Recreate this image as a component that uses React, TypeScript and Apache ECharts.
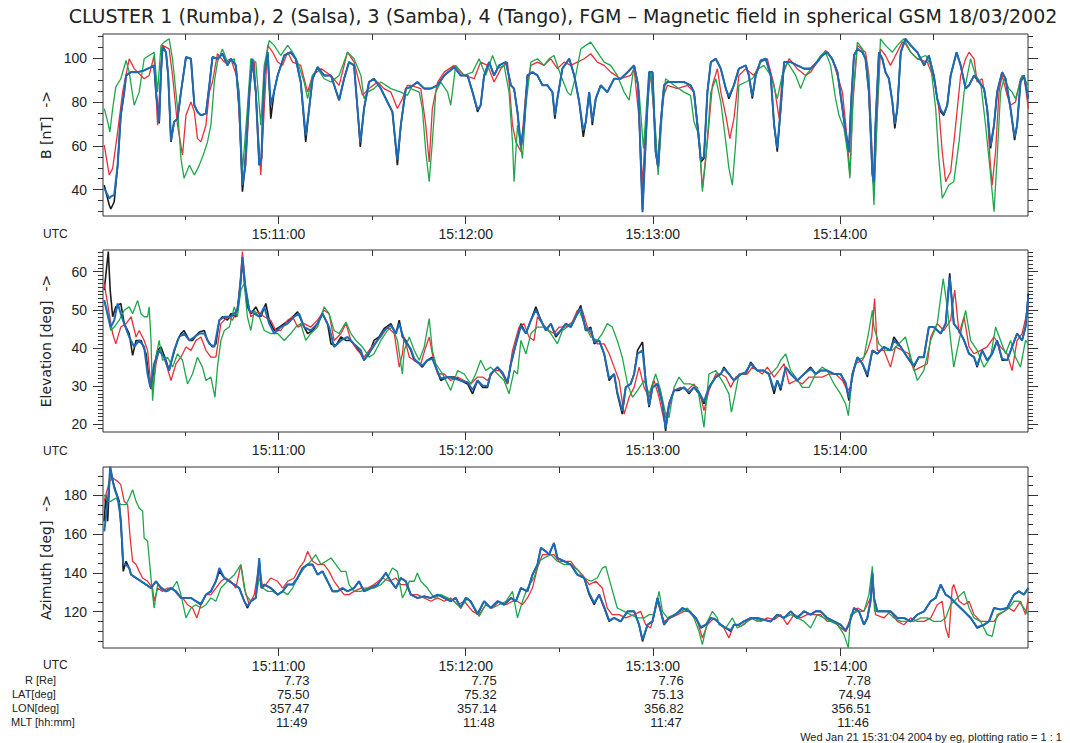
import React, { useEffect, useRef } from "react";
import * as echarts from "echarts";

// time in seconds after 15:10:00 UT
const TICK_TIMES = [60, 120, 180, 240];
const TICK_LABELS = ["15:11:00", "15:12:00", "15:13:00", "15:14:00"];
const HALF_TIMES = [30, 90, 150, 210, 270];
const ALL_TIMES = [30, 60, 90, 120, 150, 180, 210, 240, 270];
const R_RE = ["7.73", "7.75", "7.76", "7.78"];
const LAT_DEG = ["75.50", "75.32", "75.13", "74.94"];
const LON_DEG = ["357.47", "357.14", "356.82", "356.51"];
const MLT_HM = ["11:49", "11:48", "11:47", "11:46"];

const B_MAJOR = [40, 60, 80, 100];
const B_MINOR = [30, 35, 45, 50, 55, 65, 70, 75, 85, 90, 95, 105, 110];
const E_MAJOR = [20, 30, 40, 50, 60];
const E_MINOR = [19, 21, 22, 23, 24, 25, 26, 27, 28, 29, 31, 32, 33, 34, 35, 36, 37, 38, 39, 41, 42, 43, 44, 45, 46, 47, 48, 49, 51, 52, 53, 54, 55, 56, 57, 58, 59, 61, 62, 63, 64, 65];
const A_MAJOR = [120, 140, 160, 180];
const A_MINOR = [105, 110, 115, 125, 130, 135, 145, 150, 155, 165, 170, 175, 185, 190];

// |B| [nT]
const B_C1: [number, number][] = [[4.1,42.1],[5.7,33.0],[6.2,31.2],[7.3,34.5],[8.4,51.2],[9.4,73.9],[10.5,84.5],[11.1,92.1],[12.7,93.6],[14.8,93.6],[16.9,94.4],[19.1,95.9],[20.1,96.7],[20.7,84.5],[21.7,70.2],[22.3,93.6],[22.8,105.8],[23.9,102.7],[24.6,92.1],[25.5,61.8],[26.5,70.9],[27.6,72.4],[28.7,84.5],[30.3,100.5],[31.9,99.7],[33.0,78.5],[34.0,75.5],[35.1,73.9],[36.7,74.7],[37.8,87.6],[38.8,100.5],[40.4,99.7],[42.0,102.0],[43.6,96.7],[44.7,99.7],[46.3,96.7],[47.4,77.0],[48.4,39.1],[49.2,49.7],[50.6,84.5],[51.6,99.7],[52.7,84.5],[53.8,51.2],[54.5,54.2],[55.4,92.1],[56.5,102.7],[57.5,72.4],[58.6,85.0],[59.7,92.1],[61.8,101.2],[63.9,102.7],[65.5,99.7],[67.1,89.1],[68.7,61.8],[69.8,77.0],[70.9,90.6],[72.5,95.9],[74.6,92.1],[76.8,92.1],[79.4,80.8],[81.0,90.6],[82.6,98.2],[84.2,96.7],[85.3,77.0],[86.2,59.5],[87.4,77.0],[89.0,89.1],[90.6,90.6],[92.8,86.1],[94.9,80.0],[96.5,75.5],[98.1,51.2],[99.2,69.4],[100.8,86.1],[102.4,86.8],[104.5,89.1],[106.7,86.1],[108.8,86.1],[111.0,87.6],[113.1,92.1],[116.3,95.9],[118.4,92.1],[120.6,92.1],[122.2,84.5],[123.8,75.5],[124.8,78.5],[125.9,92.1],[127.5,98.2],[129.1,92.1],[130.7,96.7],[132.9,98.2],[134.5,87.6],[135.5,86.1],[136.6,75.5],[137.7,58.8],[138.7,69.4],[139.8,92.1],[141.4,93.6],[143.0,92.1],[144.6,87.6],[146.2,87.6],[147.8,84.5],[148.6,72.4],[149.4,81.5],[151.0,95.2],[153.2,99.7],[154.8,92.1],[156.4,80.0],[157.7,64.1],[158.5,70.9],[159.6,84.5],[160.6,69.4],[161.7,81.5],[163.3,87.6],[165.4,84.5],[167.6,90.6],[169.7,90.6],[171.9,93.6],[174.0,96.7],[175.3,87.6],[176.1,54.2],[176.7,30.8],[177.7,61.8],[178.8,93.6],[179.9,93.6],[180.9,57.3],[181.7,49.7],[182.5,69.4],[183.6,87.6],[184.7,89.1],[186.8,89.1],[190.0,89.1],[192.1,87.6],[193.2,84.5],[194.3,69.4],[195.4,52.7],[196.4,54.2],[197.5,84.5],[198.6,98.2],[200.2,99.7],[201.8,95.2],[203.4,86.1],[204.4,81.5],[206.0,87.6],[207.6,95.2],[209.8,96.7],[210.8,92.1],[211.9,81.5],[213.0,92.1],[214.6,98.9],[216.2,99.7],[217.8,92.1],[218.9,69.4],[219.9,57.3],[221.0,77.0],[222.1,98.2],[224.2,98.2],[226.3,96.7],[228.5,95.2],[230.6,95.2],[232.7,98.2],[234.3,101.2],[235.9,102.7],[237.5,99.7],[239.2,93.6],[240.8,77.0],[241.8,66.4],[242.9,58.8],[243.6,80.0],[244.5,101.2],[245.6,104.2],[247.2,102.7],[248.2,99.7],[249.3,84.5],[250.4,46.7],[250.9,42.1],[251.4,69.4],[252.5,102.7],[253.6,99.7],[254.6,93.6],[255.7,90.6],[256.8,80.0],[257.6,67.9],[258.4,77.0],[259.5,102.7],[261.0,108.8],[262.7,105.8],[264.8,102.7],[267.0,96.7],[268.5,101.2],[270.1,92.1],[271.2,81.5],[272.3,75.5],[273.3,73.9],[274.4,78.5],[275.5,92.1],[277.4,102.7],[278.7,96.7],[280.3,86.1],[281.4,87.6],[283.0,92.1],[284.6,89.1],[286.2,86.1],[287.2,77.0],[288.3,58.8],[289.4,69.4],[290.4,84.5],[292.0,93.6],[293.1,90.6],[294.7,77.0],[296.0,62.6],[296.8,69.4],[297.9,89.1],[299.0,92.1],[300.4,81.5]];
const B_C2: [number, number][] = [[4.1,60.3],[5.7,46.7],[6.8,49.7],[8.4,66.4],[10.0,84.5],[12.1,99.7],[13.7,95.2],[16.9,90.6],[18.5,92.1],[20.1,101.2],[21.2,69.4],[22.8,105.8],[24.9,104.2],[26.0,92.1],[27.6,69.4],[29.2,55.8],[30.3,73.9],[31.9,80.0],[33.0,75.5],[34.0,63.3],[35.1,61.8],[36.7,69.4],[37.8,84.5],[38.8,89.1],[40.4,102.0],[42.6,98.2],[44.7,99.7],[46.8,90.6],[48.4,43.6],[49.5,51.2],[51.1,92.1],[52.2,98.2],[53.3,69.4],[54.3,46.7],[55.4,77.0],[56.5,105.8],[58.1,102.7],[59.7,98.2],[61.3,96.7],[62.9,102.7],[64.5,98.2],[67.1,96.7],[69.3,84.5],[70.9,92.1],[73.6,95.2],[76.8,92.1],[79.4,87.6],[82.1,102.7],[84.2,98.2],[86.9,83.0],[89.0,86.1],[91.7,89.1],[93.8,86.1],[96.0,84.5],[98.1,77.0],[99.7,81.5],[101.3,87.6],[102.4,87.6],[105.6,86.1],[107.2,69.4],[108.3,52.7],[109.3,77.0],[111.0,89.1],[113.1,93.6],[116.3,96.7],[119.5,92.1],[122.7,90.6],[124.8,98.2],[127.0,96.7],[129.1,89.1],[131.3,95.2],[133.4,98.2],[135.0,69.4],[136.1,61.8],[137.7,57.3],[139.3,84.5],[140.9,96.7],[143.0,98.2],[145.1,96.7],[147.3,99.7],[149.4,95.2],[151.6,98.2],[153.7,96.7],[155.8,98.2],[158.0,99.7],[160.1,102.0],[162.2,98.2],[164.4,96.7],[166.5,93.6],[169.7,90.6],[172.9,92.1],[174.0,95.2],[175.6,72.4],[176.7,42.1],[177.7,69.4],[179.3,93.6],[180.4,73.9],[181.5,51.2],[183.1,81.5],[184.7,87.6],[187.9,86.1],[191.1,87.6],[193.2,84.5],[194.8,64.8],[195.9,40.6],[197.5,61.8],[199.1,87.6],[200.7,95.2],[201.8,84.5],[203.4,73.9],[204.7,63.3],[206.0,72.4],[207.6,92.1],[209.8,95.2],[212.4,92.1],[214.6,98.2],[216.7,99.7],[218.9,87.6],[220.5,72.4],[221.5,92.1],[223.7,99.7],[226.3,95.2],[229.0,92.1],[230.6,93.6],[232.7,98.2],[235.4,103.5],[237.5,99.7],[239.2,92.1],[240.8,84.5],[242.4,61.8],[243.2,46.7],[244.0,77.0],[245.6,105.8],[248.2,102.7],[249.3,92.1],[250.4,54.2],[250.9,39.1],[251.8,69.4],[253.0,104.2],[254.6,101.2],[256.2,96.7],[257.8,101.2],[260.0,107.3],[261.0,106.5],[262.7,102.7],[264.8,99.7],[268.0,98.2],[270.1,90.6],[271.7,77.0],[272.8,57.3],[273.9,43.6],[275.5,48.2],[277.1,69.4],[278.7,92.1],[280.3,99.7],[281.4,102.7],[283.0,99.7],[284.0,89.1],[285.6,90.6],[287.2,77.0],[288.1,54.2],[288.8,42.1],[289.9,57.3],[291.0,84.5],[292.0,92.1],[293.6,83.0],[294.7,78.5],[296.3,80.0],[297.9,90.6],[299.0,92.1],[300.4,77.0]];
const B_C3: [number, number][] = [[4.1,77.0],[5.2,70.9],[5.9,66.4],[6.8,77.0],[7.8,86.8],[9.4,90.6],[11.1,98.9],[12.1,93.6],[13.7,78.5],[15.3,84.5],[16.9,99.7],[18.5,101.2],[20.1,102.7],[21.2,84.5],[22.3,105.8],[23.3,107.3],[24.9,108.8],[26.0,99.7],[27.6,77.0],[28.7,54.2],[29.7,45.2],[31.4,51.2],[33.0,46.7],[34.6,51.2],[36.2,57.3],[37.2,61.8],[38.3,69.4],[39.4,89.1],[40.4,98.2],[42.0,104.2],[43.6,98.2],[45.8,99.7],[47.4,84.5],[48.4,48.2],[50.0,77.0],[51.1,99.7],[52.7,98.2],[54.3,69.4],[55.4,96.7],[57.0,108.0],[58.6,105.8],[60.7,101.2],[62.9,105.8],[64.5,102.7],[66.1,98.2],[68.2,89.1],[69.3,81.5],[70.9,92.1],[72.5,95.2],[74.6,90.6],[76.8,89.1],[79.4,92.1],[82.1,102.7],[84.2,99.7],[86.4,92.1],[87.4,81.5],[88.5,84.5],[90.6,86.1],[92.8,89.1],[96.0,86.1],[99.2,84.5],[101.3,83.0],[102.4,86.1],[105.1,84.5],[106.1,77.0],[107.2,57.3],[108.3,43.6],[109.3,61.8],[110.4,84.5],[112.0,89.1],[114.2,84.5],[115.2,78.5],[116.8,96.7],[119.5,92.1],[122.2,93.6],[124.3,99.7],[126.4,92.1],[128.6,101.2],[130.2,95.2],[132.3,96.7],[133.9,84.5],[135.0,61.8],[135.5,43.6],[136.6,69.4],[138.2,54.2],[139.3,78.5],[140.9,98.2],[143.0,99.7],[145.1,96.7],[146.7,99.7],[148.3,101.2],[150.5,92.1],[152.6,84.5],[153.7,83.0],[155.3,92.1],[156.9,104.2],[158.5,105.8],[160.1,107.3],[162.2,102.7],[164.4,98.2],[166.5,96.7],[168.6,92.1],[170.8,84.5],[172.4,80.8],[174.0,96.7],[175.6,84.5],[177.0,58.8],[178.3,84.5],[179.3,93.6],[180.9,66.4],[181.7,46.7],[183.1,77.0],[184.1,90.6],[186.8,87.6],[190.0,84.5],[192.1,83.0],[193.2,70.9],[194.8,64.8],[195.9,39.1],[197.0,54.2],[198.6,84.5],[200.2,90.6],[201.8,80.0],[203.4,61.8],[204.4,49.7],[205.5,42.1],[206.6,61.8],[207.6,87.6],[209.8,89.1],[211.9,90.6],[214.0,95.2],[215.6,96.7],[217.8,92.1],[219.9,81.5],[221.5,92.1],[223.1,98.2],[225.8,92.1],[227.4,86.1],[229.0,92.1],[231.7,96.7],[233.8,101.2],[235.4,102.7],[237.0,96.7],[238.6,81.5],[239.7,73.9],[241.3,67.9],[242.4,57.3],[243.2,45.2],[244.3,84.5],[245.6,107.3],[247.2,104.2],[248.8,96.7],[249.8,69.4],[250.9,33.0],[252.0,77.0],[253.0,108.8],[254.6,105.8],[256.8,102.7],[258.4,105.8],[260.5,108.8],[262.7,102.7],[264.8,99.7],[267.5,101.2],[269.1,96.7],[270.7,77.0],[271.7,54.2],[272.8,36.1],[274.9,42.1],[276.5,43.6],[278.2,61.8],[279.8,84.5],[281.9,99.7],[283.5,92.1],[285.1,89.1],[286.7,69.4],[288.3,46.7],[289.4,30.0],[290.4,54.2],[291.5,84.5],[292.6,90.6],[294.2,86.1],[295.2,84.5],[296.3,81.5],[298.4,92.1],[300.4,87.6]];
const B_C4: [number, number][] = [[4.1,40.6],[5.7,36.1],[6.2,36.8],[7.3,37.6],[8.4,51.2],[9.4,73.9],[10.5,84.5],[11.1,92.1],[12.7,93.6],[14.8,93.6],[16.9,94.4],[19.1,95.9],[20.1,96.7],[20.7,84.5],[21.7,71.0],[22.3,93.6],[22.8,105.0],[23.9,102.7],[24.6,92.1],[25.5,62.5],[26.5,70.9],[27.6,72.4],[28.7,84.5],[30.3,100.5],[31.9,99.7],[33.0,78.5],[34.0,75.5],[35.1,73.9],[36.7,74.7],[37.8,87.6],[38.8,100.5],[40.4,99.7],[42.0,102.0],[43.6,96.7],[44.7,99.7],[46.3,96.7],[47.4,77.0],[48.4,42.1],[49.2,49.7],[50.6,84.5],[51.6,99.7],[52.7,84.5],[53.8,51.2],[54.5,54.2],[55.4,92.1],[56.5,102.7],[57.5,78.5],[58.6,85.0],[59.7,92.1],[61.8,101.2],[63.9,102.7],[65.5,99.7],[67.1,89.1],[68.7,64.8],[69.8,77.0],[70.9,90.6],[72.5,95.9],[74.6,92.1],[76.8,92.1],[79.4,80.8],[81.0,90.6],[82.6,98.2],[84.2,96.7],[85.3,77.0],[86.2,61.5],[87.4,77.0],[89.0,89.1],[90.6,90.6],[92.8,86.1],[94.9,80.0],[96.5,75.5],[98.1,53.5],[99.2,69.4],[100.8,86.1],[102.4,86.8],[104.5,89.1],[106.7,86.1],[108.8,86.1],[111.0,87.6],[113.1,92.1],[116.3,95.9],[118.4,92.1],[120.6,92.1],[122.2,84.5],[123.8,76.5],[124.8,78.5],[125.9,92.1],[127.5,98.2],[129.1,92.1],[130.7,96.7],[132.9,98.2],[134.5,87.6],[135.5,86.1],[136.6,75.5],[137.7,60.0],[138.7,69.4],[139.8,92.1],[141.4,93.6],[143.0,92.1],[144.6,87.6],[146.2,87.6],[147.8,84.5],[148.6,74.0],[149.4,81.5],[151.0,95.2],[153.2,99.7],[154.8,92.1],[156.4,80.0],[157.7,67.0],[158.5,70.9],[159.6,84.5],[160.6,71.0],[161.7,81.5],[163.3,87.6],[165.4,84.5],[167.6,90.6],[169.7,90.6],[171.9,93.6],[174.0,96.7],[175.3,87.6],[176.1,54.2],[176.7,29.7],[177.7,61.8],[178.8,93.6],[179.9,93.6],[180.9,57.3],[181.7,50.5],[182.5,69.4],[183.6,87.6],[184.7,89.1],[186.8,89.1],[190.0,89.1],[192.1,87.6],[193.2,84.5],[194.3,69.4],[195.4,54.0],[196.4,55.0],[197.5,84.5],[198.6,98.2],[200.2,99.7],[201.8,95.2],[203.4,86.1],[204.4,82.5],[206.0,87.6],[207.6,95.2],[209.8,96.7],[210.8,92.1],[211.9,82.5],[213.0,92.1],[214.6,98.9],[216.2,99.7],[217.8,92.1],[218.9,69.4],[219.9,59.0],[221.0,77.0],[222.1,98.2],[224.2,98.2],[226.3,96.7],[228.5,95.2],[230.6,95.2],[232.7,98.2],[234.3,101.2],[235.9,102.7],[237.5,99.7],[239.2,93.6],[240.8,77.0],[241.8,66.4],[242.9,57.0],[243.6,80.0],[244.5,101.2],[245.6,104.2],[247.2,102.7],[248.2,99.7],[249.3,84.5],[250.4,47.5],[250.9,43.5],[251.4,69.4],[252.5,102.7],[253.6,99.7],[254.6,93.6],[255.7,90.6],[256.8,80.0],[257.6,70.0],[258.4,77.0],[259.5,102.7],[261.0,108.8],[262.7,105.8],[264.8,102.7],[267.0,96.7],[268.5,101.2],[270.1,92.1],[271.2,81.5],[272.3,76.5],[273.3,74.5],[274.4,78.5],[275.5,92.1],[277.4,102.7],[278.7,96.7],[280.3,86.1],[281.4,87.6],[283.0,92.1],[284.6,89.1],[286.2,86.1],[287.2,77.0],[288.3,60.0],[289.4,69.4],[290.4,84.5],[292.0,93.6],[293.1,90.6],[294.7,77.0],[296.0,64.0],[296.8,69.4],[297.9,89.1],[299.0,92.1],[300.4,81.5]];

// Elevation [deg]
const E_C1: [number, number][] = [[4.1,55.2],[5.4,65.3],[6.0,55.2],[6.8,48.2],[7.8,50.8],[9.4,51.7],[10.5,46.4],[12.1,43.8],[13.2,38.1],[14.3,42.0],[15.9,42.0],[17.5,38.5],[18.5,31.5],[19.1,29.3],[20.1,35.0],[21.2,39.4],[22.3,40.3],[23.9,36.8],[24.9,34.1],[26.0,37.6],[27.6,42.0],[28.7,43.8],[29.7,44.6],[31.4,42.0],[32.4,42.0],[33.5,43.3],[34.6,44.2],[36.2,44.6],[37.2,42.0],[38.8,40.3],[39.9,41.1],[41.0,47.3],[42.0,48.2],[43.6,47.3],[44.7,49.0],[46.3,48.2],[47.4,53.4],[48.4,63.1],[49.0,57.8],[50.0,50.8],[51.1,49.0],[52.7,50.8],[54.3,48.2],[55.9,51.7],[57.0,47.3],[58.6,44.6],[60.2,45.5],[61.8,46.4],[63.4,47.3],[65.0,48.6],[66.1,49.5],[67.7,46.4],[69.3,43.8],[70.9,44.6],[72.5,46.4],[74.1,49.0],[75.7,46.4],[76.8,41.1],[78.4,40.7],[80.0,42.9],[81.6,42.0],[83.2,42.0],[84.8,40.3],[86.4,38.5],[87.4,36.8],[89.0,38.5],[90.6,42.0],[92.2,42.9],[93.8,45.1],[96.0,46.4],[97.6,43.8],[98.7,47.3],[99.7,42.9],[100.8,42.0],[102.4,39.4],[103.5,36.8],[105.1,35.9],[106.1,35.0],[107.7,36.8],[109.3,37.6],[110.4,35.0],[112.0,31.5],[114.2,32.4],[116.3,32.4],[118.4,31.5],[120.6,30.6],[122.2,28.0],[123.8,31.5],[125.4,29.7],[127.0,29.7],[128.0,33.2],[130.2,35.0],[131.8,33.2],[133.4,30.6],[134.5,35.9],[136.1,41.1],[137.7,46.4],[139.3,43.8],[140.9,47.3],[142.5,50.8],[144.1,47.3],[145.7,44.6],[147.3,46.4],[148.9,42.9],[150.5,44.6],[152.1,46.4],[153.7,45.5],[155.3,48.2],[156.9,51.2],[158.5,44.6],[160.1,45.5],[161.2,41.1],[162.8,42.0],[164.4,38.5],[166.0,31.5],[167.6,33.2],[168.6,28.0],[170.2,22.7],[171.3,29.7],[172.9,30.6],[174.0,33.2],[175.1,39.4],[176.7,41.6],[177.7,31.5],[178.8,24.5],[179.9,29.7],[181.5,30.6],[183.1,25.4],[184.1,18.3],[185.2,25.4],[186.8,28.9],[188.4,28.9],[190.0,29.7],[191.6,28.0],[193.2,29.7],[194.8,28.0],[196.4,25.4],[198.0,29.7],[200.2,32.4],[201.8,33.2],[202.8,35.0],[204.4,33.2],[206.0,31.5],[208.2,33.2],[209.8,33.2],[211.4,36.3],[213.5,34.1],[215.6,34.1],[217.2,33.2],[218.9,28.0],[219.9,31.5],[221.0,28.9],[222.6,35.0],[224.2,33.2],[226.3,31.5],[228.5,33.2],[230.6,35.0],[232.2,33.2],[233.8,34.1],[235.9,34.1],[238.1,33.2],[240.2,33.2],[241.8,30.6],[242.9,26.2],[244.0,33.2],[245.6,37.6],[247.2,35.9],[248.8,32.4],[250.4,39.4],[252.0,38.5],[254.1,40.3],[256.2,39.4],[257.3,42.9],[259.5,40.3],[261.6,37.6],[263.7,35.0],[265.3,37.6],[266.9,37.6],[268.5,45.5],[270.1,45.5],[272.3,43.8],[273.9,46.4],[275.2,59.6],[276.5,46.4],[278.2,44.6],[279.8,42.0],[281.4,38.5],[283.0,37.6],[284.0,35.0],[285.6,39.4],[287.2,36.8],[288.8,38.5],[290.4,42.0],[292.0,36.8],[293.6,36.8],[295.2,40.3],[296.8,43.8],[298.4,42.0],[299.5,45.5],[300.4,54.3]];
const E_C2: [number, number][] = [[4.1,56.9],[5.7,49.0],[6.8,43.8],[7.8,41.1],[9.4,45.5],[11.1,46.4],[12.7,48.2],[14.3,42.9],[15.3,44.6],[16.9,42.0],[18.0,39.4],[19.1,29.7],[19.6,28.9],[20.7,35.9],[21.7,39.4],[23.3,37.6],[25.5,31.5],[27.1,35.9],[28.7,37.6],[30.3,40.3],[31.9,39.4],[33.5,42.0],[35.1,42.9],[36.7,39.4],[38.3,37.6],[39.9,37.6],[41.5,46.4],[43.6,48.2],[45.2,47.3],[46.8,49.9],[47.9,59.6],[48.4,65.3],[49.5,55.2],[51.1,48.2],[53.3,49.5],[55.4,48.2],[57.5,47.3],[59.1,44.6],[60.7,44.6],[62.9,47.3],[64.5,48.2],[66.1,45.5],[68.2,46.4],[70.3,45.5],[72.5,47.3],[74.6,49.9],[76.2,49.0],[77.8,42.0],[80.0,43.8],[81.6,46.4],[83.2,42.0],[85.3,39.4],[87.4,37.6],[89.0,39.4],[90.6,41.1],[92.8,42.9],[94.9,45.5],[97.1,43.8],[98.7,35.0],[99.7,38.5],[100.3,42.9],[101.9,37.6],[103.5,36.8],[105.6,35.9],[107.2,40.3],[108.3,42.9],[109.3,38.5],[111.0,33.2],[113.1,33.2],[115.2,31.5],[117.4,32.4],[119.5,31.5],[121.6,30.6],[123.8,32.4],[125.4,32.4],[127.0,31.5],[129.1,34.1],[131.3,34.1],[133.4,30.6],[135.0,39.4],[137.1,45.5],[138.7,46.4],[140.3,42.9],[141.9,42.0],[143.0,48.2],[144.6,46.4],[146.7,44.6],[148.3,43.8],[149.9,45.5],[152.1,45.5],[154.2,46.8],[155.8,49.9],[157.4,49.9],[159.0,45.5],[160.6,42.9],[162.2,41.1],[164.4,41.1],[166.0,38.5],[167.6,35.0],[169.2,31.5],[170.8,22.7],[172.4,27.1],[174.0,29.7],[175.6,35.0],[177.2,29.7],[178.8,27.1],[180.4,31.5],[182.0,27.1],[183.6,21.0],[185.2,24.5],[186.8,28.9],[188.9,29.7],[191.1,28.9],[193.2,30.6],[195.4,27.1],[196.4,23.6],[198.0,28.9],[200.2,33.2],[201.8,33.2],[203.4,32.4],[205.0,29.7],[206.6,32.4],[208.2,33.2],[210.3,33.2],[211.9,35.0],[213.5,34.1],[215.1,33.2],[216.7,35.0],[218.9,32.4],[220.5,34.1],[222.1,35.9],[223.7,30.6],[225.8,31.5],[227.9,30.6],[230.1,32.4],[232.2,32.4],[234.3,32.4],[236.5,33.2],[238.6,33.2],[240.8,31.5],[242.4,28.9],[243.4,29.7],[245.0,35.9],[247.2,36.8],[248.8,39.4],[250.2,42.9],[251.1,53.0],[252.0,39.4],[254.1,39.4],[256.2,35.0],[257.8,40.3],[260.0,39.4],[262.1,38.5],[263.7,34.1],[265.9,35.0],[268.0,35.9],[269.1,42.9],[271.2,46.4],[273.3,44.6],[275.5,47.3],[276.8,55.2],[278.2,43.8],[279.8,48.2],[281.4,40.3],[283.0,38.5],[285.1,39.4],[287.2,40.3],[289.4,42.9],[291.5,40.3],[293.6,38.5],[295.2,34.1],[296.8,42.0],[298.4,43.8],[300.4,50.8]];
const E_C3: [number, number][] = [[4.1,52.5],[5.2,48.2],[6.2,44.6],[7.3,45.5],[8.9,47.3],[10.5,49.9],[12.1,50.8],[13.2,49.0],[14.8,52.5],[15.9,49.0],[16.9,48.2],[18.0,48.2],[18.5,50.8],[19.1,42.0],[19.6,26.2],[20.7,37.6],[21.7,42.0],[22.8,36.8],[24.4,37.6],[26.0,35.0],[27.6,38.5],[29.2,36.8],[30.8,30.6],[32.4,33.2],[34.0,37.6],[35.6,35.0],[36.7,31.5],[38.3,32.4],[39.6,27.1],[40.4,35.0],[41.5,42.0],[42.6,44.6],[44.2,45.5],[45.8,50.8],[46.8,48.2],[47.9,55.2],[49.0,56.9],[50.0,48.2],[51.1,44.6],[52.2,49.9],[53.8,48.2],[55.4,44.6],[57.5,43.8],[59.7,43.8],[61.8,42.0],[63.9,43.8],[65.5,45.5],[67.1,46.4],[68.7,42.0],[70.3,43.8],[72.5,45.5],[74.6,50.8],[76.2,49.0],[77.8,44.6],[79.4,43.8],[81.6,46.8],[83.2,43.8],[84.8,42.0],[86.9,40.3],[89.0,37.6],[90.6,38.5],[92.8,42.0],[94.9,44.6],[96.5,45.5],[98.1,42.0],[99.7,33.2],[100.3,39.4],[101.9,42.9],[103.5,39.4],[105.1,36.8],[106.7,40.3],[108.3,47.7],[109.3,39.4],[110.4,35.9],[112.6,33.2],[115.2,28.9],[117.4,34.1],[119.5,33.2],[121.6,30.6],[123.2,33.2],[124.8,36.8],[126.4,34.1],[128.0,35.0],[130.2,33.2],[132.3,31.5],[133.9,28.0],[135.5,34.1],[136.6,33.2],[137.7,42.0],[139.3,38.5],[140.9,43.8],[143.0,45.5],[145.1,45.5],[147.3,43.8],[149.4,41.1],[151.0,44.6],[152.6,45.5],[154.8,47.3],[156.4,49.9],[158.0,46.4],[160.1,42.9],[162.2,42.0],[163.8,43.8],[165.4,46.4],[167.0,45.5],[168.6,42.0],[170.2,37.6],[171.9,30.6],[173.5,27.1],[175.1,28.9],[177.2,31.5],[178.8,28.0],[180.9,33.2],[182.5,28.9],[184.1,22.7],[185.2,21.8],[186.8,29.7],[188.4,32.4],[190.0,30.6],[192.1,30.6],[194.3,29.7],[195.4,24.5],[196.4,19.2],[198.0,33.2],[200.2,34.1],[202.8,30.6],[204.4,28.0],[205.2,23.2],[206.2,27.1],[207.6,33.2],[209.2,33.2],[211.4,35.9],[213.5,34.1],[215.6,34.1],[217.8,33.2],[219.9,35.0],[221.0,36.8],[222.6,38.5],[224.2,34.1],[225.8,32.4],[227.9,29.7],[230.1,29.7],[232.2,33.2],[234.3,35.0],[235.9,34.1],[238.1,30.6],[240.2,28.0],[241.8,25.4],[242.7,22.3],[244.0,33.2],[245.6,36.8],[247.7,37.6],[249.3,44.6],[250.4,49.9],[250.9,45.5],[252.5,41.1],[254.6,39.4],[256.8,39.4],[258.9,41.1],[261.0,42.9],[262.7,37.6],[264.8,31.5],[266.9,34.1],[269.1,42.0],[271.2,46.4],[273.1,58.2],[274.4,50.8],[275.5,42.0],[276.5,35.0],[278.2,42.0],[280.3,49.9],[281.9,42.0],[284.0,39.4],[286.2,35.0],[288.3,37.6],[289.9,45.5],[291.5,42.0],[293.1,38.5],[294.7,42.0],[296.3,37.6],[297.9,35.0],[299.5,42.0],[300.4,41.1]];
const E_C4: [number, number][] = [[4.1,52.5],[5.2,49.0],[6.2,45.5],[7.3,47.3],[8.4,51.7],[9.4,49.0],[10.5,46.4],[12.1,42.9],[13.7,40.3],[15.3,42.0],[16.9,40.3],[18.0,33.2],[18.9,29.7],[20.1,35.9],[21.7,39.4],[23.3,37.6],[24.9,34.1],[26.5,39.4],[28.1,42.9],[29.7,43.8],[31.4,42.0],[33.0,42.9],[34.6,43.8],[36.2,43.8],[37.8,41.1],[39.4,40.3],[41.0,47.3],[42.6,48.2],[44.7,48.2],[46.8,49.9],[47.9,57.8],[48.4,63.9],[49.2,56.9],[50.6,49.9],[52.2,49.0],[53.8,48.2],[55.4,50.8],[57.0,46.4],[58.6,43.8],[60.7,45.5],[62.9,46.4],[65.0,48.2],[66.6,49.0],[68.2,45.5],[70.3,44.6],[72.5,46.4],[74.1,49.0],[76.2,45.5],[77.8,40.3],[80.0,42.0],[82.1,42.9],[84.2,41.1],[86.4,39.4],[87.4,36.8],[89.6,39.4],[91.7,42.0],[93.8,44.6],[96.0,46.0],[97.6,43.8],[98.7,46.4],[100.3,42.0],[102.4,39.8],[103.5,37.2],[105.1,35.9],[106.1,35.4],[107.7,36.8],[109.3,37.2],[110.4,35.0],[112.0,32.0],[114.2,32.4],[116.3,32.0],[118.4,31.5],[120.6,31.0],[122.2,29.0],[123.8,31.5],[125.4,30.2],[127.0,30.0],[128.0,33.2],[130.2,35.0],[131.8,33.6],[133.4,31.0],[134.5,35.9],[136.1,41.1],[137.7,45.8],[139.3,43.8],[140.9,47.3],[142.5,50.0],[144.1,47.3],[145.7,44.6],[147.3,46.4],[148.9,43.4],[150.5,44.6],[152.1,46.4],[153.7,45.5],[155.3,48.2],[156.9,50.5],[158.5,44.6],[160.1,45.0],[161.2,41.6],[162.8,42.0],[164.4,38.5],[166.0,32.0],[167.6,33.2],[168.6,28.5],[170.2,23.5],[171.3,29.7],[172.9,30.6],[174.0,33.2],[175.1,38.5],[176.7,39.4],[177.7,31.5],[178.8,25.0],[179.9,29.7],[181.5,30.6],[183.1,25.4],[184.1,19.0],[185.2,25.4],[186.8,28.9],[188.4,29.3],[190.0,29.7],[191.6,28.4],[193.2,29.7],[194.8,28.4],[196.4,26.0],[198.0,29.7],[200.2,32.4],[201.8,33.2],[202.8,34.6],[204.4,33.2],[206.0,31.5],[208.2,33.2],[209.8,33.6],[211.4,35.9],[213.5,34.1],[215.6,34.1],[217.2,33.2],[218.9,29.0],[219.9,31.5],[221.0,29.5],[222.6,35.0],[224.2,33.2],[226.3,31.5],[228.5,33.2],[230.6,34.6],[232.2,33.2],[233.8,34.1],[235.9,34.1],[238.1,33.2],[240.2,33.2],[241.8,31.0],[242.9,27.0],[244.0,33.2],[245.6,37.6],[247.2,35.9],[248.8,33.0],[250.4,39.4],[252.0,38.5],[254.1,40.3],[256.2,39.4],[257.3,42.0],[259.5,40.3],[261.6,37.6],[263.7,35.4],[265.3,37.6],[266.9,37.6],[268.5,45.5],[270.1,45.5],[272.3,43.8],[273.9,46.4],[275.2,58.5],[276.5,46.4],[278.2,44.6],[279.8,42.0],[281.4,38.5],[283.0,37.6],[284.0,35.4],[285.6,39.4],[287.2,36.8],[288.8,38.5],[290.4,42.0],[292.0,37.2],[293.6,36.8],[295.2,40.3],[296.8,43.8],[298.4,42.0],[299.5,45.5],[300.4,53.5]];

// Azimuth [deg]
const A_C1: [number, number][] = [[4.1,166.6],[4.6,180.3],[5.2,166.6],[6.0,194.1],[6.8,187.2],[7.8,182.1],[8.9,176.9],[9.7,158.0],[10.2,140.8],[11.1,146.0],[12.1,142.5],[12.7,139.1],[14.3,137.4],[15.9,135.7],[17.5,134.0],[19.1,132.2],[20.7,135.7],[22.3,132.2],[23.9,130.5],[25.5,132.2],[27.1,130.5],[28.7,127.1],[30.3,127.1],[31.9,127.1],[33.5,125.4],[35.1,123.6],[36.7,128.8],[38.3,130.5],[39.9,135.7],[41.0,140.8],[42.6,137.4],[44.2,135.7],[45.8,134.0],[47.4,132.2],[49.0,125.4],[50.0,121.9],[51.1,125.4],[52.7,127.1],[53.8,146.0],[54.5,132.2],[55.4,134.0],[57.5,132.2],[59.7,128.8],[61.3,130.5],[62.9,134.0],[64.5,134.0],[66.1,137.4],[67.7,142.5],[69.3,144.3],[70.9,144.3],[72.5,139.1],[74.1,140.8],[75.7,135.7],[77.3,130.5],[78.9,130.5],[80.5,132.2],[82.1,130.5],[84.2,132.2],[85.8,135.7],[87.4,130.5],[89.6,132.2],[91.7,134.0],[94.4,140.0],[96.0,135.7],[97.6,132.2],[99.2,137.4],[100.8,135.7],[102.4,128.8],[104.5,127.1],[106.7,127.9],[108.8,127.1],[111.0,128.8],[113.1,127.1],[115.2,125.4],[116.8,127.1],[118.4,121.9],[120.0,127.1],[121.6,125.4],[123.8,118.5],[125.9,125.4],[128.0,121.9],[130.2,125.4],[132.3,123.6],[134.5,127.1],[136.1,125.4],[137.7,132.2],[139.8,130.5],[141.4,139.1],[143.0,144.3],[144.1,152.9],[145.7,151.1],[146.7,149.4],[148.3,155.4],[149.4,147.7],[151.6,146.0],[153.7,144.3],[155.8,139.1],[158.0,137.4],[159.6,128.8],[161.2,123.6],[162.8,128.8],[164.4,121.9],[166.0,115.0],[167.6,116.8],[169.7,115.0],[171.9,120.2],[174.0,120.2],[175.6,113.3],[176.7,104.7],[178.3,113.3],[179.9,115.0],[181.5,127.1],[183.6,113.3],[185.2,116.8],[187.3,118.5],[189.5,121.9],[191.6,120.2],[193.8,116.8],[195.4,111.6],[197.0,113.3],[198.6,116.8],[200.2,115.9],[201.8,113.3],[203.4,111.6],[205.0,109.9],[206.0,113.3],[207.6,113.3],[209.2,115.0],[211.4,116.8],[213.5,116.8],[215.6,115.9],[217.8,115.0],[219.9,118.5],[222.1,116.8],[224.2,120.2],[226.3,116.8],[228.5,120.2],[230.6,118.5],[232.2,120.2],[233.8,120.2],[235.9,116.8],[238.1,115.0],[240.2,113.3],[241.8,109.9],[242.9,113.3],[244.5,121.9],[246.1,120.2],[247.7,113.3],[248.8,116.8],[249.8,125.4],[250.4,139.1],[250.9,127.1],[252.0,120.2],[254.1,120.2],[256.2,120.2],[258.4,116.8],[260.5,116.8],[262.7,115.0],[264.8,118.5],[267.0,120.2],[269.1,125.4],[270.7,127.1],[272.3,134.0],[273.9,128.8],[275.5,127.1],[277.6,123.6],[279.8,120.2],[281.9,116.8],[284.0,111.6],[286.2,113.3],[287.8,115.0],[289.4,121.9],[291.5,121.1],[293.6,121.9],[295.8,128.8],[297.4,130.5],[299.0,128.8],[300.4,132.2]];
const A_C2: [number, number][] = [[4.1,176.9],[5.2,183.8],[5.7,187.2],[6.8,188.9],[8.4,187.2],[9.4,185.5],[10.5,176.9],[11.6,175.2],[12.4,158.0],[13.2,146.0],[14.3,144.3],[15.3,140.8],[16.4,137.4],[18.0,135.7],[19.6,132.2],[20.1,125.4],[21.2,132.2],[22.8,130.5],[24.4,132.2],[26.0,132.2],[27.6,128.8],[29.2,127.1],[30.8,123.6],[32.4,121.9],[33.8,116.8],[35.1,123.6],[36.7,128.8],[38.3,128.8],[39.9,132.2],[41.5,135.7],[43.1,137.4],[44.7,135.7],[46.3,132.2],[47.9,144.3],[49.0,132.2],[50.6,123.6],[52.2,128.8],[53.8,144.3],[54.9,132.2],[55.9,134.0],[57.5,137.4],[59.7,135.7],[61.3,132.2],[62.9,135.7],[65.0,137.4],[66.6,142.5],[68.2,146.0],[69.3,151.1],[70.9,146.0],[72.5,144.3],[74.6,144.3],[76.2,140.8],[77.8,135.7],[79.4,132.2],[81.0,128.8],[82.6,128.8],[84.2,130.5],[86.4,132.2],[88.5,132.2],[90.6,134.0],[93.3,137.4],[95.5,135.7],[97.6,137.4],[99.2,134.0],[100.8,134.0],[102.4,128.8],[104.5,128.8],[106.7,127.1],[108.8,125.4],[111.0,127.1],[113.1,125.4],[115.2,127.1],[117.4,123.6],[119.5,125.4],[122.2,120.2],[124.3,118.5],[126.4,123.6],[128.6,121.9],[130.7,125.4],[132.9,123.6],[135.0,125.4],[136.6,125.4],[138.2,123.6],[139.8,127.1],[141.4,132.2],[143.0,142.5],[144.6,149.4],[146.7,149.4],[148.3,149.4],[149.9,146.0],[152.1,146.0],[153.7,146.0],[155.3,142.5],[157.4,139.1],[159.6,134.0],[161.7,135.7],[163.8,132.2],[165.4,121.9],[167.0,118.5],[169.2,118.5],[171.3,116.8],[174.0,118.5],[176.1,120.2],[177.7,113.3],[179.3,111.6],[181.5,125.4],[183.6,115.0],[185.7,116.8],[187.9,118.5],[190.0,120.2],[192.1,120.2],[194.3,115.0],[195.9,106.5],[197.5,113.3],[199.6,116.8],[200.7,115.0],[202.8,111.6],[204.4,106.5],[206.0,113.3],[208.2,112.5],[210.3,115.0],[212.4,116.8],[214.6,115.0],[216.7,116.8],[218.9,115.9],[221.0,118.5],[223.1,113.3],[225.3,118.5],[227.4,116.8],[229.5,118.5],[231.7,118.5],[233.8,118.5],[235.9,115.0],[238.1,115.0],[240.2,111.6],[241.8,109.9],[243.4,116.8],[245.6,121.9],[247.7,120.2],[249.8,127.1],[250.7,134.0],[251.4,118.5],[254.1,116.8],[256.2,120.2],[258.4,115.0],[260.5,113.3],[262.7,116.8],[264.8,115.0],[267.0,115.0],[269.1,116.8],[271.2,123.6],[272.8,125.4],[273.9,111.6],[274.9,106.5],[276.0,132.2],[276.5,134.0],[278.2,125.4],[279.8,123.6],[281.4,125.4],[283.0,118.5],[285.1,115.0],[287.2,115.0],[289.4,115.0],[291.0,118.5],[292.6,120.2],[294.2,121.9],[295.8,120.2],[297.9,125.4],[299.5,118.5],[300.4,127.1]];
const A_C3: [number, number][] = [[4.1,180.3],[5.2,176.9],[6.2,176.9],[7.8,178.6],[9.4,175.2],[11.1,175.2],[12.1,178.6],[13.2,182.9],[14.3,176.9],[15.3,173.5],[16.4,171.8],[16.9,158.0],[18.0,156.3],[18.9,140.8],[19.6,128.8],[20.1,121.9],[21.2,134.0],[22.8,132.2],[24.4,130.5],[26.0,132.2],[27.4,135.7],[28.7,128.8],[30.3,116.8],[31.9,121.9],[33.5,123.6],[35.1,121.9],[36.7,123.6],[38.3,127.1],[39.9,125.4],[41.5,132.2],[43.6,135.7],[45.8,139.1],[47.9,144.3],[49.5,128.8],[51.1,125.4],[52.7,127.1],[53.8,137.4],[54.9,132.2],[56.5,130.5],[58.1,130.5],[59.7,128.8],[61.3,130.5],[62.9,128.8],[64.5,132.2],[66.1,137.4],[68.2,142.5],[70.3,146.0],[71.9,149.4],[73.6,144.3],[75.2,146.0],[76.8,147.7],[78.4,144.3],[80.0,140.8],[81.6,140.8],[82.6,134.0],[84.2,130.5],[86.4,130.5],[88.5,132.2],[90.6,132.2],[92.8,134.0],[94.9,137.4],[96.5,142.5],[98.1,140.8],[99.7,127.1],[100.8,130.5],[101.9,135.7],[103.5,135.7],[104.5,140.0],[105.6,135.7],[107.7,132.2],[109.9,127.1],[112.0,128.8],[114.2,127.1],[116.3,125.4],[118.4,121.9],[120.6,127.1],[122.7,121.9],[124.3,117.6],[126.4,123.6],[128.6,121.9],[130.7,123.6],[132.9,125.4],[135.0,130.5],[136.6,116.8],[138.2,125.4],[139.8,132.2],[141.9,137.4],[143.5,146.0],[145.1,147.7],[147.3,149.4],[149.4,146.0],[151.6,144.3],[153.7,144.3],[155.8,141.7],[158.0,137.4],[160.1,135.7],[162.2,137.4],[163.8,142.5],[164.9,143.4],[166.5,134.0],[168.6,121.9],[170.8,120.2],[172.9,118.5],[175.1,116.8],[177.2,116.8],[178.8,118.5],[180.4,118.5],[182.0,130.5],[183.1,120.2],[184.7,116.8],[186.8,118.5],[188.9,120.2],[191.1,121.9],[193.2,116.8],[194.8,109.9],[195.9,103.0],[197.5,115.0],[199.1,120.2],[200.7,116.8],[201.2,113.3],[203.4,111.6],[205.5,116.8],[207.1,111.6],[209.2,113.3],[211.4,116.8],[213.5,115.0],[215.6,115.9],[217.8,115.0],[219.9,118.5],[222.1,116.8],[224.2,118.5],[226.3,116.8],[228.5,115.0],[230.6,111.6],[232.7,118.5],[234.9,116.8],[237.0,115.0],[239.2,113.3],[241.3,108.2],[242.7,101.3],[243.4,118.5],[245.6,120.2],[247.7,120.2],[249.3,128.8],[250.4,143.4],[251.1,120.2],[253.0,120.2],[255.2,120.2],[257.3,116.8],[259.5,115.0],[261.6,115.0],[263.7,115.0],[265.9,116.8],[268.0,116.8],[270.1,115.0],[272.3,115.0],[273.9,116.8],[275.5,123.6],[277.6,127.1],[279.8,130.5],[281.4,121.9],[283.0,116.8],[285.1,115.0],[287.2,108.2],[288.8,107.3],[290.4,118.5],[292.6,120.2],[294.2,121.9],[295.8,125.4],[297.4,125.4],[299.0,121.9],[300.4,118.5]];
const A_C4: [number, number][] = [[4.1,161.4],[4.6,168.3],[5.2,176.9],[5.6,183.8],[6.0,194.9],[7.3,183.8],[8.4,178.6],[9.4,168.0],[10.2,145.0],[11.1,144.3],[12.1,142.5],[12.7,139.1],[14.3,137.4],[15.9,135.7],[17.5,134.0],[19.1,132.2],[20.7,135.7],[22.3,132.2],[23.9,130.5],[25.5,132.2],[27.1,130.5],[28.7,127.1],[30.3,127.1],[31.9,127.1],[33.5,125.4],[35.1,124.0],[36.7,128.8],[38.3,130.5],[39.9,135.7],[41.0,142.5],[42.6,137.4],[44.2,135.7],[45.8,134.0],[47.4,132.2],[49.0,125.4],[50.0,122.8],[51.1,125.4],[52.7,127.1],[53.8,147.7],[54.5,132.2],[55.4,134.0],[57.5,132.2],[59.7,128.8],[61.3,130.5],[62.9,134.0],[64.5,134.0],[66.1,137.4],[67.7,142.5],[69.3,144.3],[70.9,144.3],[72.5,139.1],[74.1,140.8],[75.7,135.7],[77.3,130.5],[78.9,130.5],[80.5,132.2],[82.1,130.5],[84.2,132.2],[85.8,135.7],[87.4,130.5],[89.6,132.2],[91.7,134.0],[94.4,140.0],[96.0,135.7],[97.6,132.2],[99.2,137.4],[100.8,135.7],[102.4,128.8],[104.5,127.1],[106.7,127.9],[108.8,127.1],[111.0,128.8],[113.1,127.1],[115.2,125.4],[116.8,127.1],[118.4,122.5],[120.0,127.1],[121.6,125.4],[123.8,119.0],[125.9,125.4],[128.0,121.9],[130.2,125.4],[132.3,123.6],[134.5,127.1],[136.1,125.4],[137.7,132.2],[139.8,130.5],[141.4,139.1],[143.0,144.3],[144.1,152.9],[145.7,151.1],[146.7,149.4],[148.3,155.4],[149.4,147.7],[151.6,146.0],[153.7,144.3],[155.8,139.1],[158.0,137.4],[159.6,129.5],[161.2,124.5],[162.8,128.8],[164.4,122.5],[166.0,115.5],[167.6,116.8],[169.7,115.0],[171.9,120.2],[174.0,120.2],[175.6,113.3],[176.7,105.5],[178.3,113.3],[179.9,115.0],[181.5,127.1],[183.6,113.3],[185.2,116.8],[187.3,118.5],[189.5,121.9],[191.6,120.2],[193.8,116.8],[195.4,112.0],[197.0,113.3],[198.6,116.8],[200.2,115.9],[201.8,113.3],[203.4,111.6],[205.0,110.5],[206.0,113.3],[207.6,113.3],[209.2,115.0],[211.4,116.8],[213.5,116.8],[215.6,115.9],[217.8,115.0],[219.9,118.5],[222.1,116.8],[224.2,120.2],[226.3,116.8],[228.5,120.2],[230.6,118.5],[232.2,120.2],[233.8,120.2],[235.9,116.8],[238.1,115.0],[240.2,113.3],[241.8,110.5],[242.9,113.3],[244.5,121.9],[246.1,120.2],[247.7,113.3],[248.8,116.8],[249.8,125.4],[250.4,140.0],[250.9,127.1],[252.0,120.2],[254.1,120.2],[256.2,120.2],[258.4,116.8],[260.5,116.8],[262.7,115.0],[264.8,118.5],[267.0,120.2],[269.1,125.4],[270.7,127.1],[272.3,134.0],[273.9,128.8],[275.5,127.1],[277.6,123.6],[279.8,120.2],[281.9,116.8],[284.0,112.0],[286.2,113.3],[287.8,115.0],[289.4,121.9],[291.5,121.1],[293.6,121.9],[295.8,128.8],[297.4,130.5],[299.0,128.8],[300.4,132.2]];

const TITLE = "CLUSTER 1 (Rumba), 2 (Salsa), 3 (Samba), 4 (Tango), FGM \u2013 Magnetic field in spherical GSM 18/03/2002";
const FOOTER = "Wed Jan 21 15:31:04 2004 by eg, plotting ratio = 1 : 1";

const X_MIN = 3.7;
const X_MAX = 300.3;
const COLORS = ["#1c1c1c", "#e8303a", "#1fa64b", "#1d6bb6"];
const WIDTHS = [1.6, 1.3, 1.3, 2.0];
const AXIS_COLOR = "#333";
const NUM_FONT = "Liberation Sans";
const TXT_FONT = "DejaVu Sans";

const PANELS = [
  { data: [B_C1, B_C2, B_C3, B_C4], min: 28, max: 111, major: B_MAJOR, minor: B_MINOR, name: "B [nT]  ->", top: 34, height: 182 },
  { data: [E_C1, E_C2, E_C3, E_C4], min: 18, max: 65.7, major: E_MAJOR, minor: E_MINOR, name: "Elevation [deg]  ->", top: 250, height: 182 },
  { data: [A_C1, A_C2, A_C3, A_C4], min: 101.3, max: 194.6, major: A_MAJOR, minor: A_MINOR, name: "Azimuth [deg]  ->", top: 467, height: 181 },
];

function buildOption() {
  const grid: any[] = [];
  const xAxis: any[] = [];
  const yAxis: any[] = [];
  const series: any[] = [];
  PANELS.forEach((p, i) => {
    grid.push({ left: 103, width: 925, top: p.top, height: p.height, show: true, borderColor: AXIS_COLOR, borderWidth: 1, backgroundColor: "transparent" });
    const xBase = { gridIndex: i, type: "value", min: X_MIN, max: X_MAX, axisLine: { show: false }, splitLine: { show: false } };
    xAxis.push({
      ...xBase, position: "bottom",
      axisTick: { show: true, customValues: TICK_TIMES, length: 8, lineStyle: { color: AXIS_COLOR, width: 1 } },
      axisLabel: { show: true, customValues: TICK_TIMES, margin: 11, fontSize: 14, fontFamily: NUM_FONT, color: "#222",
        formatter: (v: number) => TICK_LABELS[TICK_TIMES.indexOf(Math.round(v))] || "" },
    });
    xAxis.push({ ...xBase, position: "bottom", axisTick: { show: true, customValues: HALF_TIMES, length: 4, lineStyle: { color: AXIS_COLOR } }, axisLabel: { show: false } });
    xAxis.push({ ...xBase, position: "top", axisTick: { show: true, inside: true, customValues: ALL_TIMES, length: 6, lineStyle: { color: AXIS_COLOR } }, axisLabel: { show: false } });
    const yBase = { gridIndex: i, type: "value", min: p.min, max: p.max, axisLine: { show: false }, splitLine: { show: false } };
    yAxis.push({
      ...yBase, position: "left",
      name: p.name, nameLocation: "middle", nameGap: 50,
      nameTextStyle: { fontSize: 14, fontFamily: TXT_FONT, color: "#222" },
      axisTick: { show: true, customValues: p.major, length: 10, lineStyle: { color: AXIS_COLOR } },
      axisLabel: { show: true, customValues: p.major, margin: 16, fontSize: 14, fontFamily: NUM_FONT, color: "#222" },
    });
    yAxis.push({ ...yBase, position: "left", axisTick: { show: true, customValues: p.minor, length: 5, lineStyle: { color: AXIS_COLOR } }, axisLabel: { show: false } });
    yAxis.push({ ...yBase, position: "right", axisTick: { show: true, customValues: p.major, length: 10, lineStyle: { color: AXIS_COLOR } }, axisLabel: { show: false } });
    yAxis.push({ ...yBase, position: "right", axisTick: { show: true, customValues: p.minor, length: 5, lineStyle: { color: AXIS_COLOR } }, axisLabel: { show: false } });
    p.data.forEach((d, k) => {
      series.push({
        type: "line", xAxisIndex: i * 3, yAxisIndex: i * 4, data: d, showSymbol: false, symbol: "none",
        lineStyle: { color: COLORS[k], width: WIDTHS[k] }, itemStyle: { color: COLORS[k] }, clip: true, silent: true,
      });
    });
  });
  return { animation: false, backgroundColor: "#fff", grid, xAxis, yAxis, series };
}

export default function App() {
  const ref = useRef<HTMLDivElement>(null);
  useEffect(() => {
    const el = ref.current!;
    const chart = echarts.init(el, undefined, { renderer: "svg" });
    chart.setOption(buildOption());
    const xs = TICK_TIMES.map((t) => chart.convertToPixel({ xAxisIndex: 6 }, t) as number);
    const txt = (x: number, y: number, text: string, size: number, align: string, family = NUM_FONT) => ({
      type: "text", x, y, silent: true,
      style: { text, fontSize: size, fontFamily: family, fill: "#222", align, verticalAlign: "middle" },
    });
    const g: any[] = [
      txt(563, 16, TITLE, 19, "center", TXT_FONT),
      txt(43, 234, "UTC", 12, "left"),
      txt(43, 451, "UTC", 12, "left"),
      txt(43, 665, "UTC", 12, "left"),
      txt(25, 680, "R [Re]", 11, "left"),
      txt(12, 694, "LAT[deg]", 11, "left"),
      txt(12, 708, "LON[deg]", 11, "left"),
      txt(11, 722, "MLT [hh:mm]", 11, "left"),
      txt(1062, 737, FOOTER, 11, "right"),
    ];
    xs.forEach((x, i) => {
      g.push(txt(x + 31, 680, R_RE[i], 13, "right"));
      g.push(txt(x + 31, 694, LAT_DEG[i], 13, "right"));
      g.push(txt(x + 31, 708, LON_DEG[i], 13, "right"));
      g.push(txt(x + 29, 722, MLT_HM[i], 13, "right"));
    });
    chart.setOption({ graphic: g });
    return () => chart.dispose();
  }, []);
  return <div ref={ref} style={{ position: "fixed", left: 0, top: 0, width: 1070, height: 743, background: "#fff" }} />;
}
